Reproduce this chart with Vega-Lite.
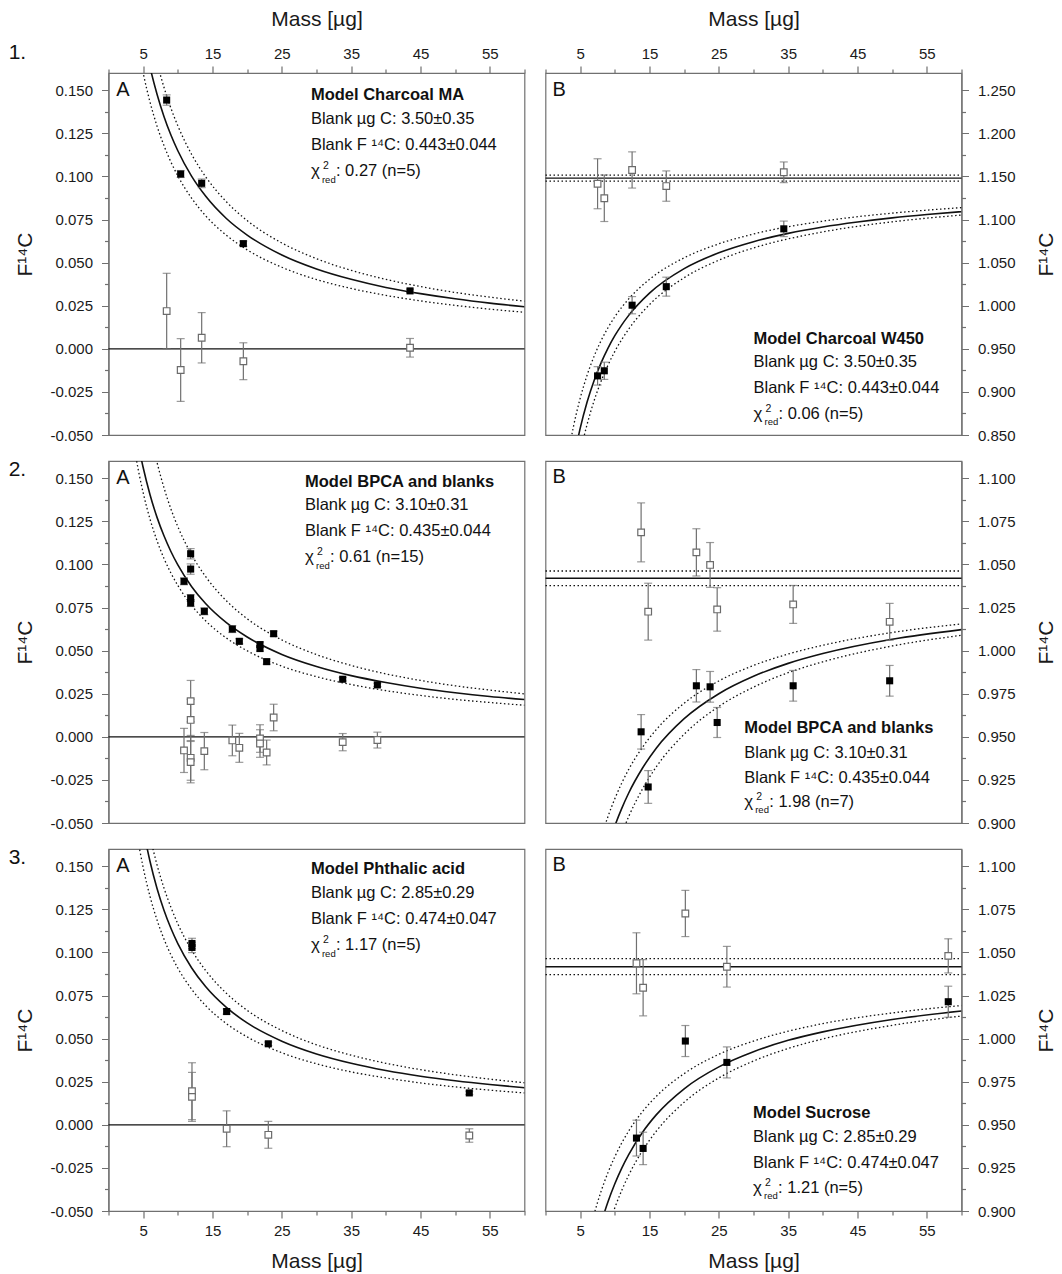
{
"$schema": "https://vega.github.io/schema/vega-lite/v6.json",
"autosize": {"type": "pad"},
"padding": {"left": 7.5, "top": 7, "right": 2, "bottom": 2},
"background": "white",
"spacing": 14,
"datasets": {
"h0": [{"m": 0, "f": 0}, {"m": 60, "f": 0}],
"hf1B": [{"m": 0, "f": 1.148}, {"m": 60, "f": 1.148}], "hb1B": [{"side": "u", "m": 0, "f": 1.1516}, {"side": "u", "m": 60, "f": 1.1516}, {"side": "l", "m": 0, "f": 1.1446}, {"side": "l", "m": 60, "f": 1.1446}],
"hf2B": [{"m": 0, "f": 1.042}, {"m": 60, "f": 1.042}], "hb2B": [{"side": "u", "m": 0, "f": 1.0462}, {"side": "u", "m": 60, "f": 1.0462}, {"side": "l", "m": 0, "f": 1.0377}, {"side": "l", "m": 60, "f": 1.0377}],
"hf3B": [{"m": 0, "f": 1.0417}, {"m": 60, "f": 1.0417}], "hb3B": [{"side": "u", "m": 0, "f": 1.0464}, {"side": "u", "m": 60, "f": 1.0464}, {"side": "l", "m": 0, "f": 1.0371}, {"side": "l", "m": 60, "f": 1.0371}],
"s1A": [{"m": 8.39, "f": 0.1443, "e": 0.003}, {"m": 10.41, "f": 0.1014, "e": 0.002}, {"m": 13.44, "f": 0.096, "e": 0.0025}, {"m": 19.45, "f": 0.061, "e": 0.0015}, {"m": 43.49, "f": 0.0336, "e": 0.001}],
"b1A": [{"m": 8.39, "f": 0.0219, "e": 0.0219}, {"m": 10.41, "f": -0.0123, "e": 0.0182}, {"m": 13.44, "f": 0.0064, "e": 0.0146}, {"m": 19.45, "f": -0.0072, "e": 0.0107}, {"m": 43.49, "f": 0.0006, "e": 0.0054}],
"fit1A": [{"m": 5, "f": 0.1824}, {"m": 6, "f": 0.1632}, {"m": 7, "f": 0.1477}, {"m": 8, "f": 0.1348}, {"m": 9, "f": 0.124}, {"m": 10, "f": 0.1149}, {"m": 12, "f": 0.1}, {"m": 14, "f": 0.0886}, {"m": 17, "f": 0.0756}, {"m": 20, "f": 0.066}, {"m": 25, "f": 0.0544}, {"m": 30, "f": 0.0463}, {"m": 35, "f": 0.0403}, {"m": 40, "f": 0.0356}, {"m": 45, "f": 0.032}, {"m": 50, "f": 0.029}, {"m": 55, "f": 0.0265}, {"m": 60, "f": 0.0244}],
"band1A": [{"side": "u", "m": 6, "f": 0.1835}, {"side": "u", "m": 7, "f": 0.1661}, {"side": "u", "m": 8, "f": 0.1517}, {"side": "u", "m": 9, "f": 0.1396}, {"side": "u", "m": 10, "f": 0.1294}, {"side": "u", "m": 12, "f": 0.1127}, {"side": "u", "m": 14, "f": 0.0999}, {"side": "u", "m": 17, "f": 0.0853}, {"side": "u", "m": 20, "f": 0.0744}, {"side": "u", "m": 25, "f": 0.0614}, {"side": "u", "m": 30, "f": 0.0523}, {"side": "u", "m": 35, "f": 0.0455}, {"side": "u", "m": 40, "f": 0.0403}, {"side": "u", "m": 45, "f": 0.0361}, {"side": "u", "m": 50, "f": 0.0327}, {"side": "u", "m": 55, "f": 0.03}, {"side": "u", "m": 60, "f": 0.0276},
 {"side": "l", "m": 4, "f": 0.1816}, {"side": "l", "m": 5, "f": 0.16}, {"side": "l", "m": 6, "f": 0.143}, {"side": "l", "m": 7, "f": 0.1292}, {"side": "l", "m": 8, "f": 0.1179}, {"side": "l", "m": 9, "f": 0.1084}, {"side": "l", "m": 10, "f": 0.1003}, {"side": "l", "m": 12, "f": 0.0873}, {"side": "l", "m": 14, "f": 0.0772}, {"side": "l", "m": 17, "f": 0.0659}, {"side": "l", "m": 20, "f": 0.0574}, {"side": "l", "m": 25, "f": 0.0473}, {"side": "l", "m": 30, "f": 0.0402}, {"side": "l", "m": 35, "f": 0.035}, {"side": "l", "m": 40, "f": 0.031}, {"side": "l", "m": 45, "f": 0.0278}, {"side": "l", "m": 50, "f": 0.0252}, {"side": "l", "m": 55, "f": 0.023}, {"side": "l", "m": 60, "f": 0.0212}],
"s1B": [{"m": 7.51, "f": 0.9186, "e": 0.0107}, {"m": 8.48, "f": 0.9245, "e": 0.01}, {"m": 12.49, "f": 1.0006, "e": 0.01}, {"m": 17.42, "f": 1.0221, "e": 0.011}, {"m": 34.37, "f": 1.0892, "e": 0.009}],
"b1B": [{"m": 7.51, "f": 1.1415, "e": 0.029}, {"m": 8.48, "f": 1.1247, "e": 0.027}, {"m": 12.49, "f": 1.1575, "e": 0.021}, {"m": 17.42, "f": 1.1388, "e": 0.0176}, {"m": 34.37, "f": 1.1548, "e": 0.012}],
"fit1B": [{"m": 4, "f": 0.819}, {"m": 5, "f": 0.8577}, {"m": 6, "f": 0.8883}, {"m": 7, "f": 0.913}, {"m": 8, "f": 0.9334}, {"m": 9, "f": 0.9506}, {"m": 10, "f": 0.9652}, {"m": 11, "f": 0.9778}, {"m": 12, "f": 0.9888}, {"m": 15, "f": 1.0146}, {"m": 20, "f": 1.043}, {"m": 25, "f": 1.0614}, {"m": 30, "f": 1.0743}, {"m": 35, "f": 1.0839}, {"m": 40, "f": 1.0913}, {"m": 45, "f": 1.0971}, {"m": 50, "f": 1.1019}, {"m": 55, "f": 1.1058}, {"m": 60, "f": 1.1091}],
"band1B": [{"side": "u", "m": 3, "f": 0.814}, {"side": "u", "m": 4, "f": 0.8585}, {"side": "u", "m": 5, "f": 0.8925}, {"side": "u", "m": 6, "f": 0.9194}, {"side": "u", "m": 7, "f": 0.9412}, {"side": "u", "m": 8, "f": 0.9592}, {"side": "u", "m": 9, "f": 0.9743}, {"side": "u", "m": 10, "f": 0.9872}, {"side": "u", "m": 12, "f": 1.0079}, {"side": "u", "m": 15, "f": 1.0306}, {"side": "u", "m": 20, "f": 1.0556}, {"side": "u", "m": 25, "f": 1.0718}, {"side": "u", "m": 30, "f": 1.0832}, {"side": "u", "m": 40, "f": 1.0981}, {"side": "u", "m": 50, "f": 1.1074}, {"side": "u", "m": 60, "f": 1.1138},
 {"side": "l", "m": 4, "f": 0.7861}, {"side": "l", "m": 5, "f": 0.8287}, {"side": "l", "m": 6, "f": 0.8623}, {"side": "l", "m": 7, "f": 0.8895}, {"side": "l", "m": 8, "f": 0.912}, {"side": "l", "m": 9, "f": 0.9309}, {"side": "l", "m": 10, "f": 0.947}, {"side": "l", "m": 12, "f": 0.9729}, {"side": "l", "m": 15, "f": 1.0013}, {"side": "l", "m": 20, "f": 1.0325}, {"side": "l", "m": 25, "f": 1.0528}, {"side": "l", "m": 30, "f": 1.067}, {"side": "l", "m": 40, "f": 1.0856}, {"side": "l", "m": 50, "f": 1.0973}, {"side": "l", "m": 60, "f": 1.1052}],
"s2A": [{"m": 10.89, "f": 0.0902, "e": 0.002}, {"m": 11.85, "f": 0.1062, "e": 0.003}, {"m": 11.85, "f": 0.0973, "e": 0.003}, {"m": 11.85, "f": 0.0805, "e": 0.002}, {"m": 11.85, "f": 0.0776, "e": 0.002}, {"m": 13.82, "f": 0.0728, "e": 0.002}, {"m": 17.86, "f": 0.0625, "e": 0.002}, {"m": 18.87, "f": 0.0554, "e": 0.0015}, {"m": 21.85, "f": 0.0535, "e": 0.0015}, {"m": 21.85, "f": 0.0512, "e": 0.0015}, {"m": 22.81, "f": 0.0436, "e": 0.0015}, {"m": 23.82, "f": 0.0598, "e": 0.0015}, {"m": 33.78, "f": 0.0334, "e": 0.001}, {"m": 38.78, "f": 0.0301, "e": 0.001}],
"b2A": [{"m": 10.89, "f": -0.0079, "e": 0.0128}, {"m": 11.85, "f": 0.0207, "e": 0.012}, {"m": 11.85, "f": 0.0098, "e": 0.012}, {"m": 11.85, "f": -0.0122, "e": 0.013}, {"m": 11.85, "f": -0.0147, "e": 0.012}, {"m": 13.82, "f": -0.0083, "e": 0.0108}, {"m": 17.86, "f": -0.0021, "e": 0.0089}, {"m": 18.87, "f": -0.0064, "e": 0.0084}, {"m": 21.85, "f": -0.001, "e": 0.008}, {"m": 21.85, "f": -0.0039, "e": 0.008}, {"m": 22.81, "f": -0.0091, "e": 0.0072}, {"m": 23.82, "f": 0.0112, "e": 0.0077}, {"m": 33.78, "f": -0.0031, "e": 0.005}, {"m": 38.78, "f": -0.0019, "e": 0.0046}],
"fit2A": [{"m": 3, "f": 0.2019}, {"m": 4, "f": 0.1761}, {"m": 5, "f": 0.1562}, {"m": 6, "f": 0.1403}, {"m": 7, "f": 0.1273}, {"m": 8, "f": 0.1166}, {"m": 9, "f": 0.1075}, {"m": 10, "f": 0.0997}, {"m": 12, "f": 0.0871}, {"m": 14, "f": 0.0773}, {"m": 17, "f": 0.0662}, {"m": 20, "f": 0.0579}, {"m": 25, "f": 0.0478}, {"m": 30, "f": 0.0408}, {"m": 35, "f": 0.0355}, {"m": 40, "f": 0.0315}, {"m": 45, "f": 0.0282}, {"m": 50, "f": 0.0256}, {"m": 55, "f": 0.0234}, {"m": 60, "f": 0.0216}],
"band2A": [{"side": "u", "m": 5, "f": 0.1998}, {"side": "u", "m": 6, "f": 0.1772}, {"side": "u", "m": 7, "f": 0.1592}, {"side": "u", "m": 8, "f": 0.1445}, {"side": "u", "m": 9, "f": 0.1322}, {"side": "u", "m": 10, "f": 0.1219}, {"side": "u", "m": 12, "f": 0.1055}, {"side": "u", "m": 14, "f": 0.093}, {"side": "u", "m": 17, "f": 0.0789}, {"side": "u", "m": 20, "f": 0.0685}, {"side": "u", "m": 25, "f": 0.0562}, {"side": "u", "m": 30, "f": 0.0477}, {"side": "u", "m": 35, "f": 0.0414}, {"side": "u", "m": 40, "f": 0.0365}, {"side": "u", "m": 45, "f": 0.0327}, {"side": "u", "m": 50, "f": 0.0296}, {"side": "u", "m": 55, "f": 0.0271}, {"side": "u", "m": 60, "f": 0.0249},
 {"side": "l", "m": 3, "f": 0.1875}, {"side": "l", "m": 4, "f": 0.1613}, {"side": "l", "m": 5, "f": 0.1416}, {"side": "l", "m": 6, "f": 0.1261}, {"side": "l", "m": 7, "f": 0.1137}, {"side": "l", "m": 8, "f": 0.1035}, {"side": "l", "m": 9, "f": 0.095}, {"side": "l", "m": 10, "f": 0.0878}, {"side": "l", "m": 12, "f": 0.0762}, {"side": "l", "m": 14, "f": 0.0673}, {"side": "l", "m": 17, "f": 0.0573}, {"side": "l", "m": 20, "f": 0.0499}, {"side": "l", "m": 25, "f": 0.041}, {"side": "l", "m": 30, "f": 0.0349}, {"side": "l", "m": 35, "f": 0.0303}, {"side": "l", "m": 40, "f": 0.0268}, {"side": "l", "m": 45, "f": 0.024}, {"side": "l", "m": 50, "f": 0.0217}, {"side": "l", "m": 55, "f": 0.0199}, {"side": "l", "m": 60, "f": 0.0183}],
"s2B": [{"m": 13.79, "f": 0.9529, "e": 0.01}, {"m": 14.81, "f": 0.9209, "e": 0.0095}, {"m": 21.76, "f": 0.9796, "e": 0.0094}, {"m": 23.74, "f": 0.979, "e": 0.0089}, {"m": 24.76, "f": 0.9583, "e": 0.0087}, {"m": 35.72, "f": 0.9796, "e": 0.0089}, {"m": 49.64, "f": 0.9825, "e": 0.0089}],
"b2B": [{"m": 13.79, "f": 1.0686, "e": 0.0171}, {"m": 14.81, "f": 1.0226, "e": 0.0165}, {"m": 21.76, "f": 1.057, "e": 0.0137}, {"m": 23.74, "f": 1.0497, "e": 0.013}, {"m": 24.76, "f": 1.0239, "e": 0.0126}, {"m": 35.72, "f": 1.0268, "e": 0.011}, {"m": 49.64, "f": 1.0167, "e": 0.0107}],
"fit2B": [{"m": 8, "f": 0.8725}, {"m": 9, "f": 0.8865}, {"m": 10, "f": 0.8983}, {"m": 11, "f": 0.9085}, {"m": 12, "f": 0.9174}, {"m": 14, "f": 0.9319}, {"m": 16, "f": 0.9435}, {"m": 20, "f": 0.9605}, {"m": 25, "f": 0.975}, {"m": 30, "f": 0.9851}, {"m": 35, "f": 0.9926}, {"m": 40, "f": 0.9983}, {"m": 50, "f": 1.0066}, {"m": 60, "f": 1.0122}],
"band2B": [{"side": "u", "m": 7, "f": 0.8762}, {"side": "u", "m": 8, "f": 0.8911}, {"side": "u", "m": 9, "f": 0.9036}, {"side": "u", "m": 10, "f": 0.9141}, {"side": "u", "m": 11, "f": 0.9232}, {"side": "u", "m": 12, "f": 0.9311}, {"side": "u", "m": 14, "f": 0.944}, {"side": "u", "m": 16, "f": 0.9543}, {"side": "u", "m": 20, "f": 0.9695}, {"side": "u", "m": 25, "f": 0.9824}, {"side": "u", "m": 30, "f": 0.9914}, {"side": "u", "m": 35, "f": 0.998}, {"side": "u", "m": 40, "f": 1.0031}, {"side": "u", "m": 50, "f": 1.0105}, {"side": "u", "m": 60, "f": 1.0155},
 {"side": "l", "m": 10, "f": 0.8825}, {"side": "l", "m": 11, "f": 0.8938}, {"side": "l", "m": 12, "f": 0.9037}, {"side": "l", "m": 14, "f": 0.9198}, {"side": "l", "m": 16, "f": 0.9327}, {"side": "l", "m": 20, "f": 0.9515}, {"side": "l", "m": 25, "f": 0.9676}, {"side": "l", "m": 30, "f": 0.9788}, {"side": "l", "m": 35, "f": 0.9872}, {"side": "l", "m": 40, "f": 0.9935}, {"side": "l", "m": 50, "f": 1.0027}, {"side": "l", "m": 60, "f": 1.0089}],
"s3A": [{"m": 12.04, "f": 0.1052, "e": 0.003}, {"m": 12.04, "f": 0.1029, "e": 0.003}, {"m": 17.04, "f": 0.0657, "e": 0.0015}, {"m": 23.05, "f": 0.047, "e": 0.001}, {"m": 52.04, "f": 0.0185, "e": 0.001}],
"b3A": [{"m": 12.04, "f": 0.0195, "e": 0.0165}, {"m": 12.04, "f": 0.0162, "e": 0.0142}, {"m": 17.04, "f": -0.0023, "e": 0.0104}, {"m": 23.05, "f": -0.0058, "e": 0.0078}, {"m": 52.04, "f": -0.0062, "e": 0.0039}],
"fit3A": [{"m": 4, "f": 0.1972}, {"m": 5, "f": 0.1721}, {"m": 6, "f": 0.1526}, {"m": 7, "f": 0.1371}, {"m": 8, "f": 0.1245}, {"m": 9, "f": 0.114}, {"m": 10, "f": 0.1051}, {"m": 12, "f": 0.091}, {"m": 14, "f": 0.0802}, {"m": 17, "f": 0.0681}, {"m": 20, "f": 0.0591}, {"m": 25, "f": 0.0485}, {"m": 30, "f": 0.0411}, {"m": 35, "f": 0.0357}, {"m": 40, "f": 0.0315}, {"m": 45, "f": 0.0282}, {"m": 50, "f": 0.0256}, {"m": 55, "f": 0.0234}, {"m": 60, "f": 0.0215}],
"band3A": [{"side": "u", "m": 5, "f": 0.1875}, {"side": "u", "m": 6, "f": 0.1672}, {"side": "u", "m": 7, "f": 0.1508}, {"side": "u", "m": 8, "f": 0.1374}, {"side": "u", "m": 9, "f": 0.1262}, {"side": "u", "m": 10, "f": 0.1166}, {"side": "u", "m": 12, "f": 0.1013}, {"side": "u", "m": 14, "f": 0.0896}, {"side": "u", "m": 17, "f": 0.0763}, {"side": "u", "m": 20, "f": 0.0664}, {"side": "u", "m": 25, "f": 0.0547}, {"side": "u", "m": 30, "f": 0.0464}, {"side": "u", "m": 35, "f": 0.0404}, {"side": "u", "m": 40, "f": 0.0357}, {"side": "u", "m": 45, "f": 0.032}, {"side": "u", "m": 50, "f": 0.029}, {"side": "u", "m": 55, "f": 0.0265}, {"side": "u", "m": 60, "f": 0.0244},
 {"side": "l", "m": 3, "f": 0.201}, {"side": "l", "m": 4, "f": 0.1714}, {"side": "l", "m": 5, "f": 0.1493}, {"side": "l", "m": 6, "f": 0.1323}, {"side": "l", "m": 7, "f": 0.1188}, {"side": "l", "m": 8, "f": 0.1078}, {"side": "l", "m": 9, "f": 0.0986}, {"side": "l", "m": 10, "f": 0.0909}, {"side": "l", "m": 12, "f": 0.0786}, {"side": "l", "m": 14, "f": 0.0692}, {"side": "l", "m": 17, "f": 0.0587}, {"side": "l", "m": 20, "f": 0.051}, {"side": "l", "m": 25, "f": 0.0418}, {"side": "l", "m": 30, "f": 0.0354}, {"side": "l", "m": 35, "f": 0.0307}, {"side": "l", "m": 40, "f": 0.0272}, {"side": "l", "m": 45, "f": 0.0243}, {"side": "l", "m": 50, "f": 0.022}, {"side": "l", "m": 55, "f": 0.0201}, {"side": "l", "m": 60, "f": 0.0185}],
"s3B": [{"m": 13.12, "f": 0.9423, "e": 0.0104}, {"m": 14.08, "f": 0.9363, "e": 0.0094}, {"m": 20.17, "f": 0.9986, "e": 0.009}, {"m": 26.16, "f": 0.9862, "e": 0.009}, {"m": 58.09, "f": 1.0214, "e": 0.009}],
"b3B": [{"m": 13.12, "f": 1.0437, "e": 0.0177}, {"m": 14.08, "f": 1.0295, "e": 0.0163}, {"m": 20.17, "f": 1.0726, "e": 0.0134}, {"m": 26.16, "f": 1.0417, "e": 0.0118}, {"m": 58.09, "f": 1.048, "e": 0.0099}],
"fit3B": [{"m": 7, "f": 0.8774}, {"m": 8, "f": 0.8926}, {"m": 9, "f": 0.9052}, {"m": 10, "f": 0.9158}, {"m": 11, "f": 0.9249}, {"m": 12, "f": 0.9327}, {"m": 14, "f": 0.9457}, {"m": 16, "f": 0.9559}, {"m": 20, "f": 0.9709}, {"m": 25, "f": 0.9836}, {"m": 30, "f": 0.9924}, {"m": 35, "f": 0.999}, {"m": 40, "f": 1.0039}, {"m": 50, "f": 1.0111}, {"m": 60, "f": 1.016}],
"band3B": [{"side": "u", "m": 6, "f": 0.8817}, {"side": "u", "m": 7, "f": 0.898}, {"side": "u", "m": 8, "f": 0.9112}, {"side": "u", "m": 9, "f": 0.9222}, {"side": "u", "m": 10, "f": 0.9315}, {"side": "u", "m": 11, "f": 0.9395}, {"side": "u", "m": 12, "f": 0.9464}, {"side": "u", "m": 14, "f": 0.9577}, {"side": "u", "m": 16, "f": 0.9666}, {"side": "u", "m": 20, "f": 0.9797}, {"side": "u", "m": 25, "f": 0.9909}, {"side": "u", "m": 30, "f": 0.9986}, {"side": "u", "m": 35, "f": 1.0043}, {"side": "u", "m": 40, "f": 1.0087}, {"side": "u", "m": 50, "f": 1.0149}, {"side": "u", "m": 60, "f": 1.0192},
 {"side": "l", "m": 9, "f": 0.8902}, {"side": "l", "m": 10, "f": 0.9019}, {"side": "l", "m": 11, "f": 0.912}, {"side": "l", "m": 12, "f": 0.9208}, {"side": "l", "m": 14, "f": 0.9351}, {"side": "l", "m": 16, "f": 0.9464}, {"side": "l", "m": 20, "f": 0.9631}, {"side": "l", "m": 25, "f": 0.9772}, {"side": "l", "m": 30, "f": 0.987}, {"side": "l", "m": 35, "f": 0.9943}, {"side": "l", "m": 40, "f": 0.9998}, {"side": "l", "m": 50, "f": 1.0077}, {"side": "l", "m": 60, "f": 1.0131}],
"a1A": [{"m": 29.2, "f1": 0.1442, "f2": 0.1302, "f3": 0.1152, "f4": 0.1, "name": "Model Charcoal MA", "l2": "Blank µg C: 3.50±0.35", "l3": "Blank F ¹⁴C: 0.443±0.044", "chi": "χ", "sup": "2", "sub": "red", "stat": ": 0.27 (n=5)", "letter": "A", "ml": 1.1, "fl": 0.1465, "row": "1.", "mr": -14.4, "fr": 0.1681}],
"a1B": [{"m": 30.0, "f1": 0.9557, "f2": 0.9284, "f3": 0.8987, "f4": 0.8687, "name": "Model Charcoal W450", "l2": "Blank µg C: 3.50±0.35", "l3": "Blank F ¹⁴C: 0.443±0.044", "chi": "χ", "sup": "2", "sub": "red", "stat": ": 0.06 (n=5)", "letter": "B", "ml": 1.0, "fl": 1.2434}],
"a2A": [{"m": 28.34, "f1": 0.1452, "f2": 0.1313, "f3": 0.1166, "f4": 0.1014, "name": "Model BPCA and blanks", "l2": "Blank µg C: 3.10±0.31", "l3": "Blank F ¹⁴C: 0.435±0.044", "chi": "χ", "sup": "2", "sub": "red", "stat": ": 0.61 (n=15)", "letter": "A", "ml": 1.1, "fl": 0.1465, "row": "2.", "mr": -14.4, "fr": 0.1513}],
"a2B": [{"m": 28.66, "f1": 0.9525, "f2": 0.9379, "f3": 0.9234, "f4": 0.9093, "name": "Model BPCA and blanks", "l2": "Blank µg C: 3.10±0.31", "l3": "Blank F ¹⁴C: 0.435±0.044", "chi": "χ", "sup": "2", "sub": "red", "stat": ": 1.98 (n=7)", "letter": "B", "ml": 1.0, "fl": 1.0975}],
"a3A": [{"m": 29.2, "f1": 0.1457, "f2": 0.1315, "f3": 0.1165, "f4": 0.1013, "name": "Model Phthalic acid", "l2": "Blank µg C: 2.85±0.29", "l3": "Blank F ¹⁴C: 0.474±0.047", "chi": "χ", "sup": "2", "sub": "red", "stat": ": 1.17 (n=5)", "letter": "A", "ml": 1.1, "fl": 0.1465, "row": "3.", "mr": -14.4, "fr": 0.1513}],
"a3B": [{"m": 29.94, "f1": 0.954, "f2": 0.9398, "f3": 0.9249, "f4": 0.9107, "name": "Model Sucrose", "l2": "Blank µg C: 2.85±0.29", "l3": "Blank F ¹⁴C: 0.474±0.047", "chi": "χ", "sup": "2", "sub": "red", "stat": ": 1.21 (n=5)", "letter": "B", "ml": 1.0, "fl": 1.0975}]
},
"vconcat": [
{"hconcat": [
{"width": 416, "height": 362,
 "encoding": {
  "x": {"field": "m", "type": "quantitative", "scale": {"domain": [0, 60], "nice": false, "zero": false}, "axis": {"orient": "top", "title": "Mass [µg]", "values": [0,5,10,15,20,25,30,35,40,45,50,55,60], "labelExpr": "datum.value % 10 === 5 ? datum.label : ''", "tickSize": 7, "tickDash": {"condition": {"test": "datum.value % 10 === 5", "value": [1, 0]}, "value": [4, 20]}, "labelPadding": 5, "titlePadding": 17, "labelOverlap": false, "labelFlush": false}},
  "y": {"field": "f", "type": "quantitative", "scale": {"domain": [-0.05, 0.16], "nice": false, "zero": false}, "axis": {"orient": "left", "title": "F¹⁴C", "values": [-0.05,-0.0375,-0.025,-0.0125,0,0.0125,0.025,0.0375,0.05,0.0625,0.075,0.0875,0.1,0.1125,0.125,0.1375,0.15], "labelExpr": "round(datum.value*400) % 10 === 0 ? replace(format(datum.value, '.3f'), '−', '-') : ''", "tickSize": 7, "tickDash": {"condition": {"test": "round(datum.value*400) % 10 === 0", "value": [1, 0]}, "value": [4, 20]}, "labelPadding": 9, "titlePadding": 14, "labelOverlap": false}}
 },
 "layer": [
  {"data": {"name": "h0"}, "mark": {"type": "line", "color": "#111", "strokeWidth": 1.3}, "encoding": {}},
  {"data": {"name": "band1A"}, "mark": {"type": "line", "clip": true, "interpolate": "monotone", "color": "#111", "strokeWidth": 1.3, "strokeDash": [1.5, 2.5]}, "encoding": {"detail": {"field": "side"}}},
  {"data": {"name": "fit1A"}, "mark": {"type": "line", "clip": true, "interpolate": "monotone", "color": "#111", "strokeWidth": 1.6}, "encoding": {}},
  {"data": {"name": "b1A"}, "mark": {"type": "errorbar", "ticks": {"size": 8}, "color": "#707070", "thickness": 1.2}, "encoding": {"yError": {"field": "e"}}},
  {"data": {"name": "s1A"}, "mark": {"type": "errorbar", "ticks": {"size": 8}, "color": "#707070", "thickness": 1.2}, "encoding": {"yError": {"field": "e"}}},
  {"data": {"name": "b1A"}, "mark": {"type": "square", "size": 44, "filled": true, "fill": "white", "stroke": "#6b6b6b", "strokeWidth": 1.2, "opacity": 1}},
  {"data": {"name": "s1A"}, "mark": {"type": "square", "size": 50, "color": "#000", "opacity": 1}},
  {"data": {"name": "a1A"}, "mark": {"type": "text", "align": "left", "baseline": "alphabetic", "fontSize": 16.5, "fontWeight": "bold", "color": "#111"}, "encoding": {"y": {"field": "f1", "type": "quantitative"}, "text": {"field": "name"}}},
  {"data": {"name": "a1A"}, "mark": {"type": "text", "align": "left", "baseline": "alphabetic", "fontSize": 16.5, "color": "#111"}, "encoding": {"y": {"field": "f2", "type": "quantitative"}, "text": {"field": "l2"}}},
  {"data": {"name": "a1A"}, "mark": {"type": "text", "align": "left", "baseline": "alphabetic", "fontSize": 16.5, "color": "#111"}, "encoding": {"y": {"field": "f3", "type": "quantitative"}, "text": {"field": "l3"}}},
  {"data": {"name": "a1A"}, "mark": {"type": "text", "align": "left", "baseline": "alphabetic", "fontSize": 17, "color": "#111"}, "encoding": {"y": {"field": "f4", "type": "quantitative"}, "text": {"field": "chi"}}},
  {"data": {"name": "a1A"}, "mark": {"type": "text", "align": "left", "baseline": "alphabetic", "fontSize": 10.5, "dx": 12, "dy": -7, "color": "#111"}, "encoding": {"y": {"field": "f4", "type": "quantitative"}, "text": {"field": "sup"}}},
  {"data": {"name": "a1A"}, "mark": {"type": "text", "align": "left", "baseline": "alphabetic", "fontSize": 9.5, "dx": 11, "dy": 6.5, "color": "#111"}, "encoding": {"y": {"field": "f4", "type": "quantitative"}, "text": {"field": "sub"}}},
  {"data": {"name": "a1A"}, "mark": {"type": "text", "align": "left", "baseline": "alphabetic", "fontSize": 16.5, "dx": 25, "color": "#111"}, "encoding": {"y": {"field": "f4", "type": "quantitative"}, "text": {"field": "stat"}}},
  {"data": {"name": "a1A"}, "mark": {"type": "text", "align": "left", "baseline": "alphabetic", "fontSize": 20, "color": "#111"}, "encoding": {"x": {"field": "ml", "type": "quantitative"}, "y": {"field": "fl", "type": "quantitative"}, "text": {"field": "letter"}}},
  {"data": {"name": "a1A"}, "mark": {"type": "text", "align": "left", "baseline": "alphabetic", "fontSize": 21, "color": "#111"}, "encoding": {"x": {"field": "mr", "type": "quantitative"}, "y": {"field": "fr", "type": "quantitative"}, "text": {"field": "row"}}}
 ]},
{"width": 416, "height": 362,
 "encoding": {
  "x": {"field": "m", "type": "quantitative", "scale": {"domain": [0, 60], "nice": false, "zero": false}, "axis": {"orient": "top", "title": "Mass [µg]", "values": [0,5,10,15,20,25,30,35,40,45,50,55,60], "labelExpr": "datum.value % 10 === 5 ? datum.label : ''", "tickSize": 7, "tickDash": {"condition": {"test": "datum.value % 10 === 5", "value": [1, 0]}, "value": [4, 20]}, "labelPadding": 5, "titlePadding": 17, "labelOverlap": false, "labelFlush": false}},
  "y": {"field": "f", "type": "quantitative", "scale": {"domain": [0.85, 1.27], "nice": false, "zero": false}, "axis": {"orient": "right", "title": "F¹⁴C", "titleAngle": 270, "titleBaseline": "top", "values": [0.85,0.875,0.9,0.925,0.95,0.975,1,1.025,1.05,1.075,1.1,1.125,1.15,1.175,1.2,1.225,1.25], "labelExpr": "round(datum.value*40) % 2 === 0 ? format(datum.value, '.3f') : ''", "tickSize": 7, "tickDash": {"condition": {"test": "round(datum.value*40) % 2 === 0", "value": [1, 0]}, "value": [4, 20]}, "labelPadding": 9, "titlePadding": 20, "labelOverlap": false}}
 },
 "layer": [
  {"data": {"name": "hb1B"}, "mark": {"type": "line", "color": "#111", "strokeWidth": 1.3, "strokeDash": [1.5, 2.5]}, "encoding": {"detail": {"field": "side"}}},
  {"data": {"name": "hf1B"}, "mark": {"type": "line", "color": "#111", "strokeWidth": 1.4}, "encoding": {}},
  {"data": {"name": "band1B"}, "mark": {"type": "line", "clip": true, "interpolate": "monotone", "color": "#111", "strokeWidth": 1.3, "strokeDash": [1.5, 2.5]}, "encoding": {"detail": {"field": "side"}}},
  {"data": {"name": "fit1B"}, "mark": {"type": "line", "clip": true, "interpolate": "monotone", "color": "#111", "strokeWidth": 1.6}, "encoding": {}},
  {"data": {"name": "b1B"}, "mark": {"type": "errorbar", "ticks": {"size": 8}, "color": "#707070", "thickness": 1.2}, "encoding": {"yError": {"field": "e"}}},
  {"data": {"name": "s1B"}, "mark": {"type": "errorbar", "ticks": {"size": 8}, "color": "#707070", "thickness": 1.2}, "encoding": {"yError": {"field": "e"}}},
  {"data": {"name": "b1B"}, "mark": {"type": "square", "size": 44, "filled": true, "fill": "white", "stroke": "#6b6b6b", "strokeWidth": 1.2, "opacity": 1}},
  {"data": {"name": "s1B"}, "mark": {"type": "square", "size": 50, "color": "#000", "opacity": 1}},
  {"data": {"name": "a1B"}, "mark": {"type": "text", "align": "left", "baseline": "alphabetic", "fontSize": 16.5, "fontWeight": "bold", "color": "#111"}, "encoding": {"y": {"field": "f1", "type": "quantitative"}, "text": {"field": "name"}}},
  {"data": {"name": "a1B"}, "mark": {"type": "text", "align": "left", "baseline": "alphabetic", "fontSize": 16.5, "color": "#111"}, "encoding": {"y": {"field": "f2", "type": "quantitative"}, "text": {"field": "l2"}}},
  {"data": {"name": "a1B"}, "mark": {"type": "text", "align": "left", "baseline": "alphabetic", "fontSize": 16.5, "color": "#111"}, "encoding": {"y": {"field": "f3", "type": "quantitative"}, "text": {"field": "l3"}}},
  {"data": {"name": "a1B"}, "mark": {"type": "text", "align": "left", "baseline": "alphabetic", "fontSize": 17, "color": "#111"}, "encoding": {"y": {"field": "f4", "type": "quantitative"}, "text": {"field": "chi"}}},
  {"data": {"name": "a1B"}, "mark": {"type": "text", "align": "left", "baseline": "alphabetic", "fontSize": 10.5, "dx": 12, "dy": -7, "color": "#111"}, "encoding": {"y": {"field": "f4", "type": "quantitative"}, "text": {"field": "sup"}}},
  {"data": {"name": "a1B"}, "mark": {"type": "text", "align": "left", "baseline": "alphabetic", "fontSize": 9.5, "dx": 11, "dy": 6.5, "color": "#111"}, "encoding": {"y": {"field": "f4", "type": "quantitative"}, "text": {"field": "sub"}}},
  {"data": {"name": "a1B"}, "mark": {"type": "text", "align": "left", "baseline": "alphabetic", "fontSize": 16.5, "dx": 25, "color": "#111"}, "encoding": {"y": {"field": "f4", "type": "quantitative"}, "text": {"field": "stat"}}},
  {"data": {"name": "a1B"}, "mark": {"type": "text", "align": "left", "baseline": "alphabetic", "fontSize": 20, "color": "#111"}, "encoding": {"x": {"field": "ml", "type": "quantitative"}, "y": {"field": "fl", "type": "quantitative"}, "text": {"field": "letter"}}}
 ]}
], "spacing": 21, "bounds": "flush"},
{"hconcat": [
{"width": 416, "height": 362,
 "encoding": {
  "x": {"field": "m", "type": "quantitative", "scale": {"domain": [0, 60], "nice": false, "zero": false}, "axis": null},
  "y": {"field": "f", "type": "quantitative", "scale": {"domain": [-0.05, 0.16], "nice": false, "zero": false}, "axis": {"orient": "left", "title": "F¹⁴C", "values": [-0.05,-0.0375,-0.025,-0.0125,0,0.0125,0.025,0.0375,0.05,0.0625,0.075,0.0875,0.1,0.1125,0.125,0.1375,0.15], "labelExpr": "round(datum.value*400) % 10 === 0 ? replace(format(datum.value, '.3f'), '−', '-') : ''", "tickSize": 7, "tickDash": {"condition": {"test": "round(datum.value*400) % 10 === 0", "value": [1, 0]}, "value": [4, 20]}, "labelPadding": 9, "titlePadding": 14, "labelOverlap": false}}
 },
 "layer": [
  {"data": {"name": "h0"}, "mark": {"type": "line", "color": "#111", "strokeWidth": 1.3}, "encoding": {}},
  {"data": {"name": "band2A"}, "mark": {"type": "line", "clip": true, "interpolate": "monotone", "color": "#111", "strokeWidth": 1.3, "strokeDash": [1.5, 2.5]}, "encoding": {"detail": {"field": "side"}}},
  {"data": {"name": "fit2A"}, "mark": {"type": "line", "clip": true, "interpolate": "monotone", "color": "#111", "strokeWidth": 1.6}, "encoding": {}},
  {"data": {"name": "b2A"}, "mark": {"type": "errorbar", "ticks": {"size": 8}, "color": "#707070", "thickness": 1.2}, "encoding": {"yError": {"field": "e"}}},
  {"data": {"name": "s2A"}, "mark": {"type": "errorbar", "ticks": {"size": 8}, "color": "#707070", "thickness": 1.2}, "encoding": {"yError": {"field": "e"}}},
  {"data": {"name": "b2A"}, "mark": {"type": "square", "size": 44, "filled": true, "fill": "white", "stroke": "#6b6b6b", "strokeWidth": 1.2, "opacity": 1}},
  {"data": {"name": "s2A"}, "mark": {"type": "square", "size": 50, "color": "#000", "opacity": 1}},
  {"data": {"name": "a2A"}, "mark": {"type": "text", "align": "left", "baseline": "alphabetic", "fontSize": 16.5, "fontWeight": "bold", "color": "#111"}, "encoding": {"y": {"field": "f1", "type": "quantitative"}, "text": {"field": "name"}}},
  {"data": {"name": "a2A"}, "mark": {"type": "text", "align": "left", "baseline": "alphabetic", "fontSize": 16.5, "color": "#111"}, "encoding": {"y": {"field": "f2", "type": "quantitative"}, "text": {"field": "l2"}}},
  {"data": {"name": "a2A"}, "mark": {"type": "text", "align": "left", "baseline": "alphabetic", "fontSize": 16.5, "color": "#111"}, "encoding": {"y": {"field": "f3", "type": "quantitative"}, "text": {"field": "l3"}}},
  {"data": {"name": "a2A"}, "mark": {"type": "text", "align": "left", "baseline": "alphabetic", "fontSize": 17, "color": "#111"}, "encoding": {"y": {"field": "f4", "type": "quantitative"}, "text": {"field": "chi"}}},
  {"data": {"name": "a2A"}, "mark": {"type": "text", "align": "left", "baseline": "alphabetic", "fontSize": 10.5, "dx": 12, "dy": -7, "color": "#111"}, "encoding": {"y": {"field": "f4", "type": "quantitative"}, "text": {"field": "sup"}}},
  {"data": {"name": "a2A"}, "mark": {"type": "text", "align": "left", "baseline": "alphabetic", "fontSize": 9.5, "dx": 11, "dy": 6.5, "color": "#111"}, "encoding": {"y": {"field": "f4", "type": "quantitative"}, "text": {"field": "sub"}}},
  {"data": {"name": "a2A"}, "mark": {"type": "text", "align": "left", "baseline": "alphabetic", "fontSize": 16.5, "dx": 25, "color": "#111"}, "encoding": {"y": {"field": "f4", "type": "quantitative"}, "text": {"field": "stat"}}},
  {"data": {"name": "a2A"}, "mark": {"type": "text", "align": "left", "baseline": "alphabetic", "fontSize": 20, "color": "#111"}, "encoding": {"x": {"field": "ml", "type": "quantitative"}, "y": {"field": "fl", "type": "quantitative"}, "text": {"field": "letter"}}},
  {"data": {"name": "a2A"}, "mark": {"type": "text", "align": "left", "baseline": "alphabetic", "fontSize": 21, "color": "#111"}, "encoding": {"x": {"field": "mr", "type": "quantitative"}, "y": {"field": "fr", "type": "quantitative"}, "text": {"field": "row"}}}
 ]},
{"width": 416, "height": 362,
 "encoding": {
  "x": {"field": "m", "type": "quantitative", "scale": {"domain": [0, 60], "nice": false, "zero": false}, "axis": null},
  "y": {"field": "f", "type": "quantitative", "scale": {"domain": [0.9, 1.11], "nice": false, "zero": false}, "axis": {"orient": "right", "title": "F¹⁴C", "titleAngle": 270, "titleBaseline": "top", "values": [0.9,0.9125,0.925,0.9375,0.95,0.9625,0.975,0.9875,1,1.0125,1.025,1.0375,1.05,1.0625,1.075,1.0875,1.1], "labelExpr": "round(datum.value*80) % 2 === 0 ? format(datum.value, '.3f') : ''", "tickSize": 7, "tickDash": {"condition": {"test": "round(datum.value*80) % 2 === 0", "value": [1, 0]}, "value": [4, 20]}, "labelPadding": 9, "titlePadding": 20, "labelOverlap": false}}
 },
 "layer": [
  {"data": {"name": "hb2B"}, "mark": {"type": "line", "color": "#111", "strokeWidth": 1.3, "strokeDash": [1.5, 2.5]}, "encoding": {"detail": {"field": "side"}}},
  {"data": {"name": "hf2B"}, "mark": {"type": "line", "color": "#111", "strokeWidth": 1.4}, "encoding": {}},
  {"data": {"name": "band2B"}, "mark": {"type": "line", "clip": true, "interpolate": "monotone", "color": "#111", "strokeWidth": 1.3, "strokeDash": [1.5, 2.5]}, "encoding": {"detail": {"field": "side"}}},
  {"data": {"name": "fit2B"}, "mark": {"type": "line", "clip": true, "interpolate": "monotone", "color": "#111", "strokeWidth": 1.6}, "encoding": {}},
  {"data": {"name": "b2B"}, "mark": {"type": "errorbar", "ticks": {"size": 8}, "color": "#707070", "thickness": 1.2}, "encoding": {"yError": {"field": "e"}}},
  {"data": {"name": "s2B"}, "mark": {"type": "errorbar", "ticks": {"size": 8}, "color": "#707070", "thickness": 1.2}, "encoding": {"yError": {"field": "e"}}},
  {"data": {"name": "b2B"}, "mark": {"type": "square", "size": 44, "filled": true, "fill": "white", "stroke": "#6b6b6b", "strokeWidth": 1.2, "opacity": 1}},
  {"data": {"name": "s2B"}, "mark": {"type": "square", "size": 50, "color": "#000", "opacity": 1}},
  {"data": {"name": "a2B"}, "mark": {"type": "text", "align": "left", "baseline": "alphabetic", "fontSize": 16.5, "fontWeight": "bold", "color": "#111"}, "encoding": {"y": {"field": "f1", "type": "quantitative"}, "text": {"field": "name"}}},
  {"data": {"name": "a2B"}, "mark": {"type": "text", "align": "left", "baseline": "alphabetic", "fontSize": 16.5, "color": "#111"}, "encoding": {"y": {"field": "f2", "type": "quantitative"}, "text": {"field": "l2"}}},
  {"data": {"name": "a2B"}, "mark": {"type": "text", "align": "left", "baseline": "alphabetic", "fontSize": 16.5, "color": "#111"}, "encoding": {"y": {"field": "f3", "type": "quantitative"}, "text": {"field": "l3"}}},
  {"data": {"name": "a2B"}, "mark": {"type": "text", "align": "left", "baseline": "alphabetic", "fontSize": 17, "color": "#111"}, "encoding": {"y": {"field": "f4", "type": "quantitative"}, "text": {"field": "chi"}}},
  {"data": {"name": "a2B"}, "mark": {"type": "text", "align": "left", "baseline": "alphabetic", "fontSize": 10.5, "dx": 12, "dy": -7, "color": "#111"}, "encoding": {"y": {"field": "f4", "type": "quantitative"}, "text": {"field": "sup"}}},
  {"data": {"name": "a2B"}, "mark": {"type": "text", "align": "left", "baseline": "alphabetic", "fontSize": 9.5, "dx": 11, "dy": 6.5, "color": "#111"}, "encoding": {"y": {"field": "f4", "type": "quantitative"}, "text": {"field": "sub"}}},
  {"data": {"name": "a2B"}, "mark": {"type": "text", "align": "left", "baseline": "alphabetic", "fontSize": 16.5, "dx": 25, "color": "#111"}, "encoding": {"y": {"field": "f4", "type": "quantitative"}, "text": {"field": "stat"}}},
  {"data": {"name": "a2B"}, "mark": {"type": "text", "align": "left", "baseline": "alphabetic", "fontSize": 20, "color": "#111"}, "encoding": {"x": {"field": "ml", "type": "quantitative"}, "y": {"field": "fl", "type": "quantitative"}, "text": {"field": "letter"}}}
 ]}
], "spacing": 21, "bounds": "flush"},
{"hconcat": [
{"width": 416, "height": 362,
 "encoding": {
  "x": {"field": "m", "type": "quantitative", "scale": {"domain": [0, 60], "nice": false, "zero": false}, "axis": {"orient": "bottom", "title": "Mass [µg]", "values": [0,5,10,15,20,25,30,35,40,45,50,55,60], "labelExpr": "datum.value % 10 === 5 ? datum.label : ''", "tickSize": 7, "tickDash": {"condition": {"test": "datum.value % 10 === 5", "value": [1, 0]}, "value": [4, 20]}, "labelPadding": 5, "titlePadding": 12, "labelOverlap": false, "labelFlush": false}},
  "y": {"field": "f", "type": "quantitative", "scale": {"domain": [-0.05, 0.16], "nice": false, "zero": false}, "axis": {"orient": "left", "title": "F¹⁴C", "values": [-0.05,-0.0375,-0.025,-0.0125,0,0.0125,0.025,0.0375,0.05,0.0625,0.075,0.0875,0.1,0.1125,0.125,0.1375,0.15], "labelExpr": "round(datum.value*400) % 10 === 0 ? replace(format(datum.value, '.3f'), '−', '-') : ''", "tickSize": 7, "tickDash": {"condition": {"test": "round(datum.value*400) % 10 === 0", "value": [1, 0]}, "value": [4, 20]}, "labelPadding": 9, "titlePadding": 14, "labelOverlap": false}}
 },
 "layer": [
  {"data": {"name": "h0"}, "mark": {"type": "line", "color": "#111", "strokeWidth": 1.3}, "encoding": {}},
  {"data": {"name": "band3A"}, "mark": {"type": "line", "clip": true, "interpolate": "monotone", "color": "#111", "strokeWidth": 1.3, "strokeDash": [1.5, 2.5]}, "encoding": {"detail": {"field": "side"}}},
  {"data": {"name": "fit3A"}, "mark": {"type": "line", "clip": true, "interpolate": "monotone", "color": "#111", "strokeWidth": 1.6}, "encoding": {}},
  {"data": {"name": "b3A"}, "mark": {"type": "errorbar", "ticks": {"size": 8}, "color": "#707070", "thickness": 1.2}, "encoding": {"yError": {"field": "e"}}},
  {"data": {"name": "s3A"}, "mark": {"type": "errorbar", "ticks": {"size": 8}, "color": "#707070", "thickness": 1.2}, "encoding": {"yError": {"field": "e"}}},
  {"data": {"name": "b3A"}, "mark": {"type": "square", "size": 44, "filled": true, "fill": "white", "stroke": "#6b6b6b", "strokeWidth": 1.2, "opacity": 1}},
  {"data": {"name": "s3A"}, "mark": {"type": "square", "size": 50, "color": "#000", "opacity": 1}},
  {"data": {"name": "a3A"}, "mark": {"type": "text", "align": "left", "baseline": "alphabetic", "fontSize": 16.5, "fontWeight": "bold", "color": "#111"}, "encoding": {"y": {"field": "f1", "type": "quantitative"}, "text": {"field": "name"}}},
  {"data": {"name": "a3A"}, "mark": {"type": "text", "align": "left", "baseline": "alphabetic", "fontSize": 16.5, "color": "#111"}, "encoding": {"y": {"field": "f2", "type": "quantitative"}, "text": {"field": "l2"}}},
  {"data": {"name": "a3A"}, "mark": {"type": "text", "align": "left", "baseline": "alphabetic", "fontSize": 16.5, "color": "#111"}, "encoding": {"y": {"field": "f3", "type": "quantitative"}, "text": {"field": "l3"}}},
  {"data": {"name": "a3A"}, "mark": {"type": "text", "align": "left", "baseline": "alphabetic", "fontSize": 17, "color": "#111"}, "encoding": {"y": {"field": "f4", "type": "quantitative"}, "text": {"field": "chi"}}},
  {"data": {"name": "a3A"}, "mark": {"type": "text", "align": "left", "baseline": "alphabetic", "fontSize": 10.5, "dx": 12, "dy": -7, "color": "#111"}, "encoding": {"y": {"field": "f4", "type": "quantitative"}, "text": {"field": "sup"}}},
  {"data": {"name": "a3A"}, "mark": {"type": "text", "align": "left", "baseline": "alphabetic", "fontSize": 9.5, "dx": 11, "dy": 6.5, "color": "#111"}, "encoding": {"y": {"field": "f4", "type": "quantitative"}, "text": {"field": "sub"}}},
  {"data": {"name": "a3A"}, "mark": {"type": "text", "align": "left", "baseline": "alphabetic", "fontSize": 16.5, "dx": 25, "color": "#111"}, "encoding": {"y": {"field": "f4", "type": "quantitative"}, "text": {"field": "stat"}}},
  {"data": {"name": "a3A"}, "mark": {"type": "text", "align": "left", "baseline": "alphabetic", "fontSize": 20, "color": "#111"}, "encoding": {"x": {"field": "ml", "type": "quantitative"}, "y": {"field": "fl", "type": "quantitative"}, "text": {"field": "letter"}}},
  {"data": {"name": "a3A"}, "mark": {"type": "text", "align": "left", "baseline": "alphabetic", "fontSize": 21, "color": "#111"}, "encoding": {"x": {"field": "mr", "type": "quantitative"}, "y": {"field": "fr", "type": "quantitative"}, "text": {"field": "row"}}}
 ]},
{"width": 416, "height": 362,
 "encoding": {
  "x": {"field": "m", "type": "quantitative", "scale": {"domain": [0, 60], "nice": false, "zero": false}, "axis": {"orient": "bottom", "title": "Mass [µg]", "values": [0,5,10,15,20,25,30,35,40,45,50,55,60], "labelExpr": "datum.value % 10 === 5 ? datum.label : ''", "tickSize": 7, "tickDash": {"condition": {"test": "datum.value % 10 === 5", "value": [1, 0]}, "value": [4, 20]}, "labelPadding": 5, "titlePadding": 12, "labelOverlap": false, "labelFlush": false}},
  "y": {"field": "f", "type": "quantitative", "scale": {"domain": [0.9, 1.11], "nice": false, "zero": false}, "axis": {"orient": "right", "title": "F¹⁴C", "titleAngle": 270, "titleBaseline": "top", "values": [0.9,0.9125,0.925,0.9375,0.95,0.9625,0.975,0.9875,1,1.0125,1.025,1.0375,1.05,1.0625,1.075,1.0875,1.1], "labelExpr": "round(datum.value*80) % 2 === 0 ? format(datum.value, '.3f') : ''", "tickSize": 7, "tickDash": {"condition": {"test": "round(datum.value*80) % 2 === 0", "value": [1, 0]}, "value": [4, 20]}, "labelPadding": 9, "titlePadding": 20, "labelOverlap": false}}
 },
 "layer": [
  {"data": {"name": "hb3B"}, "mark": {"type": "line", "color": "#111", "strokeWidth": 1.3, "strokeDash": [1.5, 2.5]}, "encoding": {"detail": {"field": "side"}}},
  {"data": {"name": "hf3B"}, "mark": {"type": "line", "color": "#111", "strokeWidth": 1.4}, "encoding": {}},
  {"data": {"name": "band3B"}, "mark": {"type": "line", "clip": true, "interpolate": "monotone", "color": "#111", "strokeWidth": 1.3, "strokeDash": [1.5, 2.5]}, "encoding": {"detail": {"field": "side"}}},
  {"data": {"name": "fit3B"}, "mark": {"type": "line", "clip": true, "interpolate": "monotone", "color": "#111", "strokeWidth": 1.6}, "encoding": {}},
  {"data": {"name": "b3B"}, "mark": {"type": "errorbar", "ticks": {"size": 8}, "color": "#707070", "thickness": 1.2}, "encoding": {"yError": {"field": "e"}}},
  {"data": {"name": "s3B"}, "mark": {"type": "errorbar", "ticks": {"size": 8}, "color": "#707070", "thickness": 1.2}, "encoding": {"yError": {"field": "e"}}},
  {"data": {"name": "b3B"}, "mark": {"type": "square", "size": 44, "filled": true, "fill": "white", "stroke": "#6b6b6b", "strokeWidth": 1.2, "opacity": 1}},
  {"data": {"name": "s3B"}, "mark": {"type": "square", "size": 50, "color": "#000", "opacity": 1}},
  {"data": {"name": "a3B"}, "mark": {"type": "text", "align": "left", "baseline": "alphabetic", "fontSize": 16.5, "fontWeight": "bold", "color": "#111"}, "encoding": {"y": {"field": "f1", "type": "quantitative"}, "text": {"field": "name"}}},
  {"data": {"name": "a3B"}, "mark": {"type": "text", "align": "left", "baseline": "alphabetic", "fontSize": 16.5, "color": "#111"}, "encoding": {"y": {"field": "f2", "type": "quantitative"}, "text": {"field": "l2"}}},
  {"data": {"name": "a3B"}, "mark": {"type": "text", "align": "left", "baseline": "alphabetic", "fontSize": 16.5, "color": "#111"}, "encoding": {"y": {"field": "f3", "type": "quantitative"}, "text": {"field": "l3"}}},
  {"data": {"name": "a3B"}, "mark": {"type": "text", "align": "left", "baseline": "alphabetic", "fontSize": 17, "color": "#111"}, "encoding": {"y": {"field": "f4", "type": "quantitative"}, "text": {"field": "chi"}}},
  {"data": {"name": "a3B"}, "mark": {"type": "text", "align": "left", "baseline": "alphabetic", "fontSize": 10.5, "dx": 12, "dy": -7, "color": "#111"}, "encoding": {"y": {"field": "f4", "type": "quantitative"}, "text": {"field": "sup"}}},
  {"data": {"name": "a3B"}, "mark": {"type": "text", "align": "left", "baseline": "alphabetic", "fontSize": 9.5, "dx": 11, "dy": 6.5, "color": "#111"}, "encoding": {"y": {"field": "f4", "type": "quantitative"}, "text": {"field": "sub"}}},
  {"data": {"name": "a3B"}, "mark": {"type": "text", "align": "left", "baseline": "alphabetic", "fontSize": 16.5, "dx": 25, "color": "#111"}, "encoding": {"y": {"field": "f4", "type": "quantitative"}, "text": {"field": "stat"}}},
  {"data": {"name": "a3B"}, "mark": {"type": "text", "align": "left", "baseline": "alphabetic", "fontSize": 20, "color": "#111"}, "encoding": {"x": {"field": "ml", "type": "quantitative"}, "y": {"field": "fl", "type": "quantitative"}, "text": {"field": "letter"}}}
 ]}
], "spacing": 21, "bounds": "flush"}
],
"config": {
 "font": "Liberation Sans",
 "view": {"stroke": "#707070", "strokeWidth": 1.2},
 "axis": {"labelFont": "Liberation Sans", "titleFont": "Liberation Sans", "labelFontSize": 15, "titleFontSize": 21, "titleFontWeight": "normal", "labelColor": "#1a1a1a", "titleColor": "#1a1a1a", "tickColor": "#707070", "domainColor": "#707070", "tickWidth": 1.2, "domainWidth": 1.2, "grid": false},
 "text": {"font": "Liberation Sans"}
}
}
